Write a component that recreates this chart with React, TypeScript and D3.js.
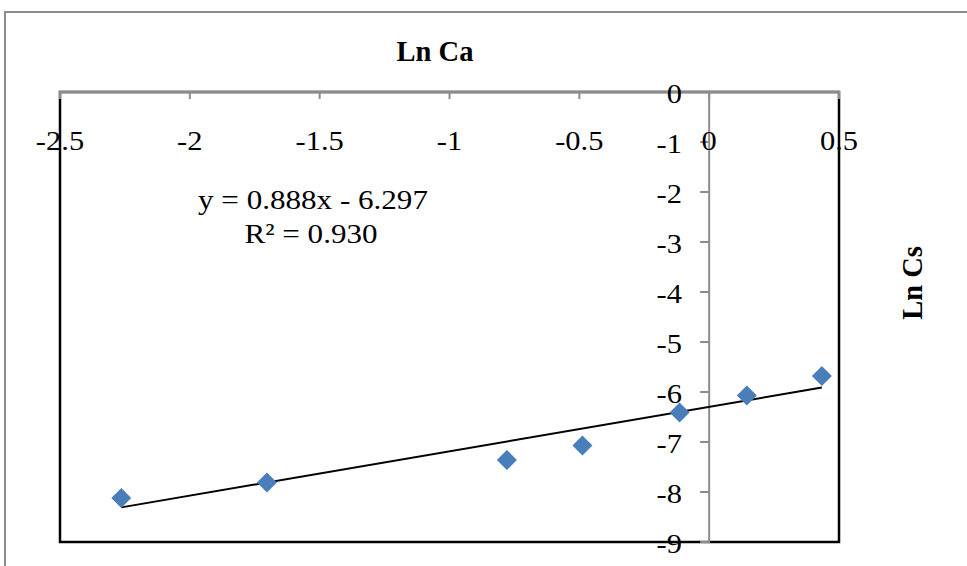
import React, { useRef, useEffect } from 'react';
import * as d3 from 'd3';

// ln Ca vs ln Cs
const lnCa = [-2.264, -1.703, -0.779, -0.488, -0.114, 0.145, 0.434];
const lnCs = [-8.12, -7.81, -7.36, -7.07, -6.41, -6.07, -5.68];
const xTicks = [-2.5, -2, -1.5, -1, -0.5, 0, 0.5];
const yTicks = [0, -1, -2, -3, -4, -5, -6, -7, -8, -9];
const slope = 0.888;
const intercept = -6.297;
const equation = 'y = 0.888x - 6.297';
const rSquared = 'R² = 0.930';

const App = () => {
  const ref = useRef<SVGSVGElement>(null);

  useEffect(() => {
    const width = 967;
    const height = 566;
    const left = 60, right = 839, top = 92, bottom = 542;
    const font = '"Liberation Serif", "Times New Roman", serif';

    const svg = d3.select(ref.current)
      .attr('width', width)
      .attr('height', height);
    svg.selectAll('*').remove();

    const x = d3.scaleLinear().domain([-2.5, 0.5]).range([left, right]);
    const y = d3.scaleLinear().domain([0, -9]).range([top, bottom]);

    // outer chart border (top + left only visible)
    svg.append('path')
      .attr('d', `M5,${height} V12 H${width}`)
      .attr('fill', 'none')
      .attr('stroke', '#8c8c8c')
      .attr('stroke-width', 2);

    // plot area frame
    svg.append('rect')
      .attr('x', left).attr('y', top)
      .attr('width', right - left).attr('height', bottom - top)
      .attr('fill', 'white')
      .attr('stroke', '#000')
      .attr('stroke-width', 2.5);

    // y axis at x = 0
    svg.append('line')
      .attr('x1', x(0)).attr('x2', x(0))
      .attr('y1', top).attr('y2', bottom + 1)
      .attr('stroke', '#8c8c8c').attr('stroke-width', 2);

    svg.append('g')
      .selectAll('line')
      .data(yTicks.slice(1))
      .join('line')
        .attr('x1', x(0) - 9).attr('x2', x(0))
        .attr('y1', d => y(d)).attr('y2', d => y(d))
        .attr('stroke', '#8c8c8c').attr('stroke-width', 2);

    // x axis at y = 0 (top)
    svg.append('line')
      .attr('x1', left - 1).attr('x2', right + 1)
      .attr('y1', y(0)).attr('y2', y(0))
      .attr('stroke', '#8c8c8c').attr('stroke-width', 2.5);

    svg.append('g')
      .selectAll('line')
      .data(xTicks)
      .join('line')
        .attr('x1', d => x(d)).attr('x2', d => x(d))
        .attr('y1', y(0)).attr('y2', y(0) + 7)
        .attr('stroke', '#8c8c8c').attr('stroke-width', 2);

    // trendline
    const ext = d3.extent(lnCa) as [number, number];
    svg.append('line')
      .attr('x1', x(ext[0])).attr('y1', y(slope * ext[0] + intercept))
      .attr('x2', x(ext[1])).attr('y2', y(slope * ext[1] + intercept))
      .attr('stroke', '#000').attr('stroke-width', 2);

    // points
    const diamond = d3.symbol(d3.symbolSquare, 200);
    svg.append('g')
      .selectAll('path')
      .data(lnCa.map((v, i) => [v, lnCs[i]]))
      .join('path')
        .attr('d', diamond)
        .attr('transform', d => `translate(${x(d[0])},${y(d[1])}) rotate(45)`)
        .attr('fill', '#4a7ebb');

    const text = (label: string, tx: number, ty: number, size: number, anchor: string,
                  stretch = 1.13, bold = false, rot = 0) =>
      svg.append('text')
        .attr('transform', `translate(${tx},${ty}) rotate(${rot}) scale(${stretch},1)`)
        .attr('text-anchor', anchor)
        .attr('font-family', font)
        .attr('font-size', size)
        .attr('font-weight', bold ? 'bold' : 'normal')
        .attr('fill', '#000')
        .text(label);

    // x tick labels
    xTicks.forEach(d => text(String(d), x(d), 150, 27, 'middle'));
    // y tick labels
    yTicks.forEach(d => text(String(d), 682, y(d) + 11, 27, 'end'));

    // titles
    text('Ln Ca', 435, 61, 28.5, 'middle', 1, true);
    text('Ln Cs', 922, 283, 28.5, 'middle', 1, true, -90);

    // equation
    text(equation, 313, 209, 28, 'middle', 1.11);
    text(rSquared, 311, 243, 28, 'middle', 1.11);
  }, []);

  return (
    <svg ref={ref} style={{ position: 'absolute', left: 0, top: 0, background: '#fff' }} />
  );
};

export default App;
